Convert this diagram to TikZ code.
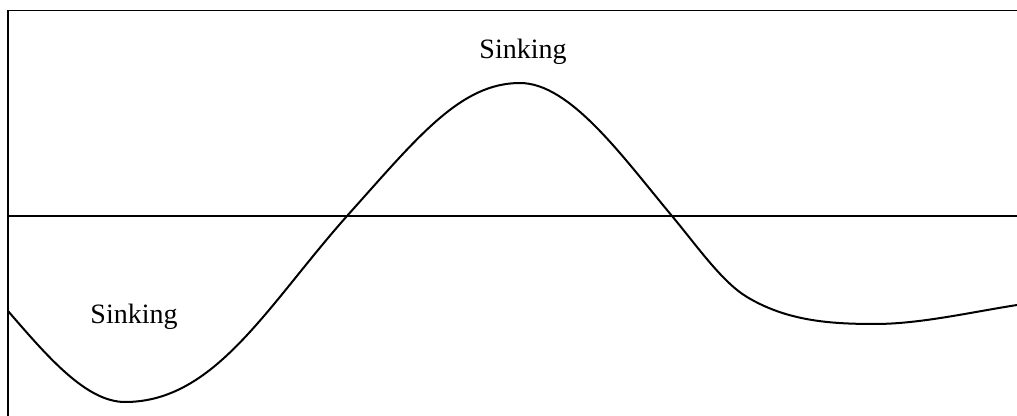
\documentclass[tikz,border=0pt]{standalone}
\usepackage{fontspec}
\setmainfont{Liberation Serif}
\begin{document}
\begin{tikzpicture}[x=0.75pt,y=-0.75pt,
  frame/.style={line width=1.2pt,black},
  axisline/.style={line width=0.9pt,black},
  wave/.style={line width=1.5pt,black},
  lbl/.style={font=\fontsize{21}{25}\selectfont,inner sep=0pt,anchor=base}]
\useasboundingbox (0,0) rectangle (1017,416);
\coordinate (tl) at (8,10.5);
\coordinate (tr) at (1017,10.5);
\coordinate (bl) at (8,416);
\coordinate (al) at (8,216);
\coordinate (ar) at (1017,216);
\draw[frame] (tr) -- (tl) -- (bl);
\draw[axisline] (al) -- (ar);
\draw[wave] (8,311) .. controls (47,356) and (86,402) .. (125,402)
  .. controls (215,402) and (267,306) .. (347,216)
  .. controls (417,138) and (460,83) .. (520,83)
  .. controls (570,83) and (622,156) .. (672,216)
  .. controls (697,246) and (722,282) .. (747,297)
  .. controls (787,321) and (830,324) .. (875,324)
  .. controls (920,324) and (972,312) .. (1017,305);
\node[lbl] (top) at (523,59) {Sinking};
\node[lbl] (low) at (134,324) {Sinking};
\end{tikzpicture}
\end{document}
